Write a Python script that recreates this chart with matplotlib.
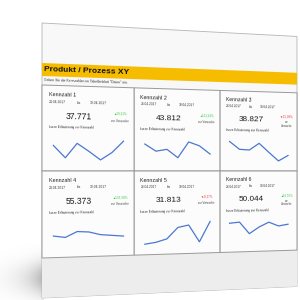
import numpy as np
import matplotlib
matplotlib.use("Agg")
import matplotlib.pyplot as plt
import matplotlib.transforms as mtransforms
from matplotlib.patches import Polygon

plt.rcParams['font.family'] = ['Liberation Sans', 'DejaVu Sans']

# Daten der sechs Kennzahlen
kennzahlen = ["Kennzahl 1", "Kennzahl 2", "Kennzahl 3", "Kennzahl 4", "Kennzahl 5", "Kennzahl 6"]
werte = ["37.771", "43.812", "38.827", "55.373", "31.813", "50.044"]
veraenderung = [29.31, 101.43, -15.09, 136.58, -8.17, 42.55]
datum_von = "24.04.2017"
datum_bis = "30.04.2017"

# Verlauf 24.04. - 30.04. (relative Hoehe)
verlauf_1 = [50, 13, 57, 33, 7, 30, 65]
verlauf_2 = [57, 35, 41, 15, 65, 53, 27]
verlauf_3 = [68, 43, 41, 63, 34, 6, 24]
verlauf_4 = [35, 30, 47, 45, 36, 33, 30]
verlauf_5 = [3, 8, 18, 53, 60, 6, 70]
verlauf_6 = [63, 66, 28, 49, 64, 51, 56]
verlaeufe = [verlauf_1, verlauf_2, verlauf_3, verlauf_4, verlauf_5, verlauf_6]

# Perspektive der Seite (leicht nach rechts gedreht)
X0, HZ, TOP = 42.0, 171.0, 23.0
K = 0.10
A = 255.0 * (1 + K)


class Perspektive(mtransforms.Transform):
    input_dims = output_dims = 2
    is_separable = False
    has_inverse = False

    def transform_non_affine(self, values):
        values = np.asarray(values, float).reshape(-1, 2)
        t, v = values[:, 0], values[:, 1]
        s = 1.0 / (1.0 + K * t)
        x = X0 + A * t * s
        y = HZ + (TOP + v - HZ) * s
        return np.column_stack([x, 300.0 - y])


fig = plt.figure(figsize=(3, 3), dpi=100)
ax = fig.add_axes([0, 0, 1, 1])
ax.set_xlim(0, 300)
ax.set_ylim(0, 300)
ax.axis('off')
T = Perspektive() + ax.transData


def skala(u):
    return 1.0 / (1.0 + K * u)


def winkel(u, v):
    p = Perspektive().transform(np.array([[u, v], [u + 0.01, v]]))
    dx, dy = p[1] - p[0]
    return np.degrees(np.arctan2(dy, dx))


def text(u, v, s, size, **kw):
    kw.setdefault('va', 'center')
    ax.text(u, v, s, transform=T, fontsize=size * skala(u), rotation=winkel(u, v),
            rotation_mode='anchor', clip_on=False, **kw)


def flaeche(u0, u1, v0, v1, **kw):
    ax.add_patch(Polygon([[u0, v0], [u1, v0], [u1, v1], [u0, v1]], closed=True,
                         transform=T, clip_on=False, **kw))


# Schatten links unten (weicher Verlauf)
ys, xs = np.mgrid[0:70, 0:44]
hoehe = 70 - ys  # Abstand vom unteren Bildrand
alpha = 0.5 * np.exp(-(43 - xs) / 18.0) * np.exp(-((hoehe - 22) / 17.0) ** 2)
schatten = np.zeros((70, 44, 4))
schatten[..., :3] = 0.4
schatten[..., 3] = alpha
ax.imshow(schatten, extent=(0, 44, 0, 70), origin='upper', zorder=0, aspect='auto')

# Seite
flaeche(0, 1, 0, 275, fc="#f8f8f8", ec="#b5b5b5", lw=0.6, zorder=1)
flaeche(0, 1, 235, 275, fc="#ededed", ec="none", zorder=1)
flaeche(0, 1, 40, 53, fc="#F6BD00", ec="none", zorder=2)
text(0.006, 46.8, "Produkt / Prozess XY", 6.0, weight='bold', color='#111111', zorder=3)
text(0.006, 56.5, 'Geben Sie die Kennzahlen im Tabellenblatt "Daten" ein.', 2.4,
     color='#333333', zorder=3)

spalten = [0.0, 0.34, 0.678, 1.0]
zeilen = [62.0, 148.0, 235.0]

for i in range(6):
    r, c = divmod(i, 3)
    c0, c1 = spalten[c], spalten[c + 1]
    v0, v1 = zeilen[r], zeilen[r + 1]
    cw = c1 - c0
    flaeche(c0, c1, v0, v1, fc="#fcfcfc", ec="#999999", lw=0.7, zorder=2)

    text(c0 + 0.07 * cw, v0 + 9.5, kennzahlen[i], 3.9, color='#222222', zorder=3)
    text(c0 + 0.07 * cw, v0 + 16.7, datum_von, 2.45, color='#333333', zorder=3)
    text(c0 + 0.37 * cw, v0 + 16.7, "bis", 2.45, color='#333333', zorder=3)
    text(c0 + 0.515 * cw, v0 + 16.7, datum_bis, 2.45, color='#333333', zorder=3)
    text(c0 + 0.395 * cw, v0 + 31, werte[i], 6.3, ha='center', color='#1a1a1a', zorder=3)

    p = veraenderung[i]
    if p >= 0:
        label, farbe = "▲" + f"{p:.2f}".replace('.', ',') + "%", '#2ecc40'
    else:
        label, farbe = "▼" + f"{p:.2f}".replace('.', ',') + "%", '#e8303a'
    pu = c0 + (0.86 if c == 2 else 0.84) * cw
    text(pu, v0 + 26.7, label, 2.3, ha='center', color=farbe, zorder=3)
    if c == 2:
        text(pu, v0 + 32.3, "zur", 2.1, ha='center', color='#444444', zorder=3)
        text(pu, v0 + 36.3, "Vorwoche", 2.1, ha='center', color='#444444', zorder=3)
    else:
        text(pu, v0 + 34.3, "zur Vorwoche", 2.1, ha='center', color='#444444', zorder=3)
    text(c0 + 0.07 * cw, v0 + 42.3, "kurze Erläuterung zur Kennzahl", 2.3,
         color='#333333', zorder=3)

    werte_linie = verlaeufe[i]
    n = len(werte_linie)
    box = mtransforms.Bbox.from_extents(c0 + 0.12 * cw, v0 + 77, c0 + 0.88 * cw, v0 + 47)
    lt = mtransforms.BboxTransform(mtransforms.Bbox.from_extents(0, 0, n - 1, 90), box) + T
    ax.plot(np.arange(n), werte_linie, color='#4A78D0', lw=0.9, transform=lt,
            clip_on=False, zorder=4)

fig.savefig("out.png", dpi=100)
